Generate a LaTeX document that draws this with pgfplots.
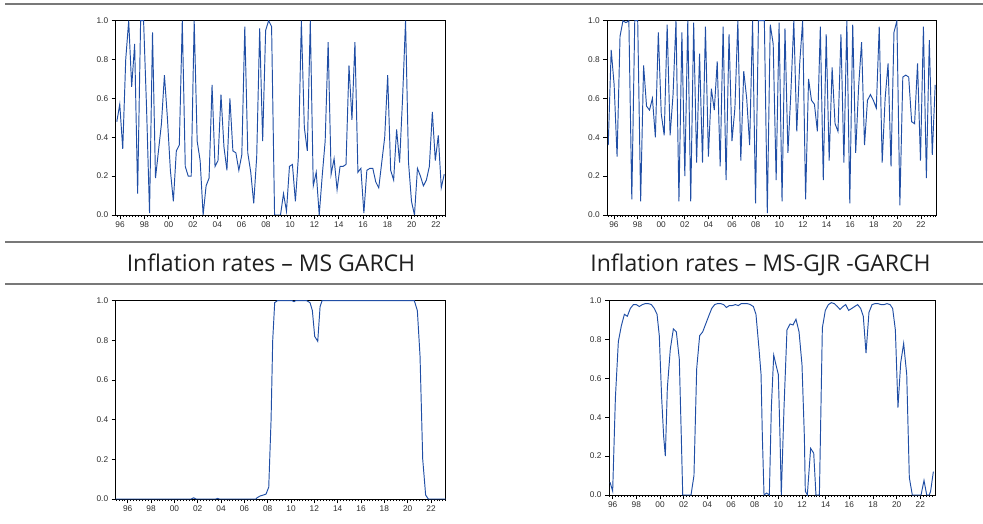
\documentclass[border=0pt]{standalone}
\usepackage{fontspec}
\setmainfont{Liberation Sans}
\newfontfamily\titlefont{Open Sans}
\usepackage{pgfplots}
\usepackage{pgfplotstable}
\pgfplotsset{compat=1.18}

\definecolor{lineblue}{RGB}{32,78,165}
\definecolor{ticktext}{RGB}{45,45,45}
\definecolor{rulegray}{RGB}{120,120,120}

\pgfplotsset{
  panel/.style={
    scale only axis,
    anchor=south west,
    ymin=0, ymax=1,
    ytick={0,0.2,0.4,0.6,0.8,1},
    yticklabels={0.0,0.2,0.4,0.6,0.8,1.0},
    xtick={1996,1998,...,2022},
    xticklabels={96,98,00,02,04,06,08,10,12,14,16,18,20,22},
    minor xtick={1994.75,1995,...,2023.5},
    tick pos=left,
    tick align=outside,
    major tick length=4pt,
    minor tick length=2.2pt,
    every tick/.style={black, line width=0.6pt},
    axis line style={black, line width=0.9pt},
    tick label style={font=\fontsize{8.3}{9}\selectfont, text=ticktext},
    xticklabel style={yshift=1pt},
    /pgf/number format/assume math mode=true,
    clip=true,
  },
  series/.style={lineblue, line width=0.95pt, no marks},
}

% top left: filtered probabilities, MS GARCH (quarterly)
\pgfplotstableread{
y
0.48
0.57
0.34
0.8
1.0
0.66
0.88
0.11
1.0
1.0
0.55
0.01
0.94
0.19
0.33
0.47
0.72
0.5
0.23
0.07
0.33
0.36
1.0
0.25
0.2
0.2
1.0
0.38
0.28
0.0
0.15
0.19
0.67
0.25
0.28
0.62
0.35
0.23
0.6
0.33
0.32
0.23
0.31
0.97
0.32
0.22
0.06
0.3
0.96
0.38
0.95
1.0
0.97
0.0
0.0
0.0
0.11
0.02
0.25
0.26
0.07
0.3
1.0
0.45
0.33
1.0
0.15
0.22
0.0
0.2
0.38
0.89
0.21
0.29
0.13
0.25
0.25
0.26
0.77
0.49
0.89
0.22
0.24
0.01
0.23
0.24
0.24
0.17
0.14
0.27
0.4
0.72
0.23
0.18
0.44
0.27
0.6
1.0
0.27
0.07
0.0
0.24
0.2
0.15
0.18
0.25
0.53
0.28
0.41
0.14
0.21
}\topleft

% top right: filtered probabilities, MS-GJR-GARCH (quarterly)
\pgfplotstableread{
y
0.36
0.85
0.67
0.3
0.92
1.0
0.99
1.0
0.08
1.0
1.0
0.07
0.77
0.56
0.54
0.6
0.4
0.94
0.52
0.41
0.98
0.41
0.62
1.0
0.07
0.94
0.2
1.0
0.07
0.99
0.27
0.83
0.27
0.97
0.3
0.65
0.54
0.79
0.25
0.97
0.18
0.93
0.38
0.55
1.0
0.28
0.74
0.6
0.36
1.0
0.06
1.0
1.0
1.0
0.01
0.98
0.88
0.18
0.99
0.07
0.96
0.32
0.63
1.0
0.43
0.78
1.0
0.08
0.7
0.59
0.57
0.43
0.97
0.18
0.93
0.28
0.76
0.47
0.43
0.93
0.27
1.0
0.06
0.98
0.32
0.66
0.89
0.36
0.59
0.62
0.59
0.55
0.97
0.27
0.6
0.78
0.25
0.94
1.0
0.05
0.71
0.72
0.71
0.48
0.47
0.78
0.28
0.97
0.19
0.9
0.31
0.67
}\topright

% bottom left: smoothed probabilities, MS GARCH
\pgfplotstableread{
x y
1994.97 0.0
2001.45 0.0
2001.65 0.006
2001.85 0.0
2003.55 0.0
2003.70 0.003
2003.85 0.0
2007.00 0.0
2007.06 0.005
2007.34 0.015
2007.63 0.02
2007.86 0.025
2008.09 0.06
2008.29 0.40
2008.43 0.80
2008.60 0.99
2008.83 1.0
2010.10 1.0
2010.25 0.995
2010.40 1.0
2011.34 1.0
2011.63 0.99
2011.83 0.95
2012.03 0.82
2012.29 0.795
2012.49 0.97
2012.66 1.0
2020.57 1.0
2020.83 0.95
2021.06 0.72
2021.29 0.20
2021.54 0.02
2021.77 0.0
2023.26 0.0
}\botleft

% bottom right: smoothed probabilities, MS-GJR-GARCH
\pgfplotstableread{
x y
1995.78 0.065
1996.00 0.02
1996.23 0.50
1996.48 0.79
1996.73 0.87
1996.99 0.93
1997.24 0.92
1997.49 0.96
1997.75 0.98
1998.00 0.98
1998.25 0.97
1998.51 0.98
1998.76 0.985
1999.01 0.985
1999.27 0.98
1999.52 0.96
1999.75 0.93
1999.94 0.82
2000.14 0.50
2000.31 0.30
2000.45 0.20
2000.62 0.55
2000.87 0.75
2001.13 0.855
2001.38 0.84
2001.63 0.70
2001.80 0.30
2001.92 0.0
2002.62 0.0
2002.87 0.10
2003.10 0.65
2003.35 0.82
2003.61 0.84
2003.86 0.88
2004.11 0.92
2004.37 0.96
2004.62 0.98
2004.87 0.985
2005.13 0.985
2005.38 0.98
2005.61 0.965
2005.86 0.975
2006.11 0.975
2006.37 0.98
2006.62 0.975
2006.87 0.985
2007.13 0.985
2007.38 0.985
2007.63 0.98
2007.89 0.97
2008.11 0.93
2008.37 0.75
2008.54 0.62
2008.65 0.30
2008.79 0.0
2009.01 0.01
2009.24 0.0
2009.41 0.45
2009.61 0.72
2009.80 0.67
2010.00 0.62
2010.14 0.30
2010.25 0.0
2010.48 0.45
2010.73 0.85
2010.99 0.88
2011.24 0.875
2011.49 0.905
2011.75 0.84
2012.00 0.67
2012.20 0.30
2012.28 0.02
2012.45 0.0
2012.73 0.24
2012.99 0.215
2013.18 0.0
2013.47 0.0
2013.72 0.86
2013.97 0.95
2014.23 0.98
2014.48 0.99
2014.73 0.985
2014.99 0.97
2015.21 0.955
2015.47 0.97
2015.69 0.98
2015.94 0.95
2016.20 0.96
2016.45 0.97
2016.70 0.98
2016.96 0.96
2017.18 0.92
2017.41 0.73
2017.66 0.94
2017.92 0.98
2018.17 0.985
2018.42 0.985
2018.68 0.98
2018.93 0.98
2019.18 0.985
2019.44 0.98
2019.66 0.96
2019.89 0.85
2020.11 0.45
2020.34 0.68
2020.59 0.78
2020.85 0.62
2021.07 0.09
2021.32 0.0
2022.06 0.0
2022.31 0.075
2022.54 0.0
2022.76 0.0
2022.87 0.02
2023.10 0.12
}\botright

\begin{document}
\begin{tikzpicture}[x=1pt,y=1pt]
\path[use as bounding box] (0,0) rectangle (983,523);

% separating rules
\draw[rulegray, line width=1.1pt] (5,519) -- (983,519);
\draw[rulegray, line width=1.1pt] (5,281) -- (983,281);
\draw[rulegray, line width=1.1pt] (5,239) -- (983,239);

% panel titles
\node[anchor=base, font=\titlefont\fontsize{23}{26}\selectfont, text=black!88]
  at (271,251.5) {Inflation rates – MS GARCH};
\node[anchor=base, font=\titlefont\fontsize{23}{26}\selectfont, text=black!88]
  at (760.5,251.5) {Inflation rates – MS-GJR -GARCH};

% top left
\begin{axis}[panel, at={(115.7pt,308pt)}, width=330pt, height=194.3pt,
  xmin=1995.64, xmax=2022.8]
\addplot[series] table[x expr=1995.73+0.245*\coordindex, y=y] {\topleft};
\end{axis}

% top right
\begin{axis}[panel, at={(607.3pt,308pt)}, width=329.4pt, height=194.3pt,
  xmin=1995.44, xmax=2023.33]
\addplot[series] table[x expr=1995.52+0.2494*\coordindex, y=y] {\topright};
\end{axis}

% bottom left
\begin{axis}[panel, at={(115.7pt,24pt)}, width=330pt, height=198.3pt,
  xmin=1994.97, xmax=2023.26]
\addplot[series] table[x=x, y=y] {\botleft};
\end{axis}

% bottom right
\begin{axis}[panel, at={(609pt,28pt)}, width=326pt, height=194.3pt,
  xmin=1995.69, xmax=2023.24]
\addplot[series] table[x=x, y=y] {\botright};
\end{axis}
\end{tikzpicture}
\end{document}
